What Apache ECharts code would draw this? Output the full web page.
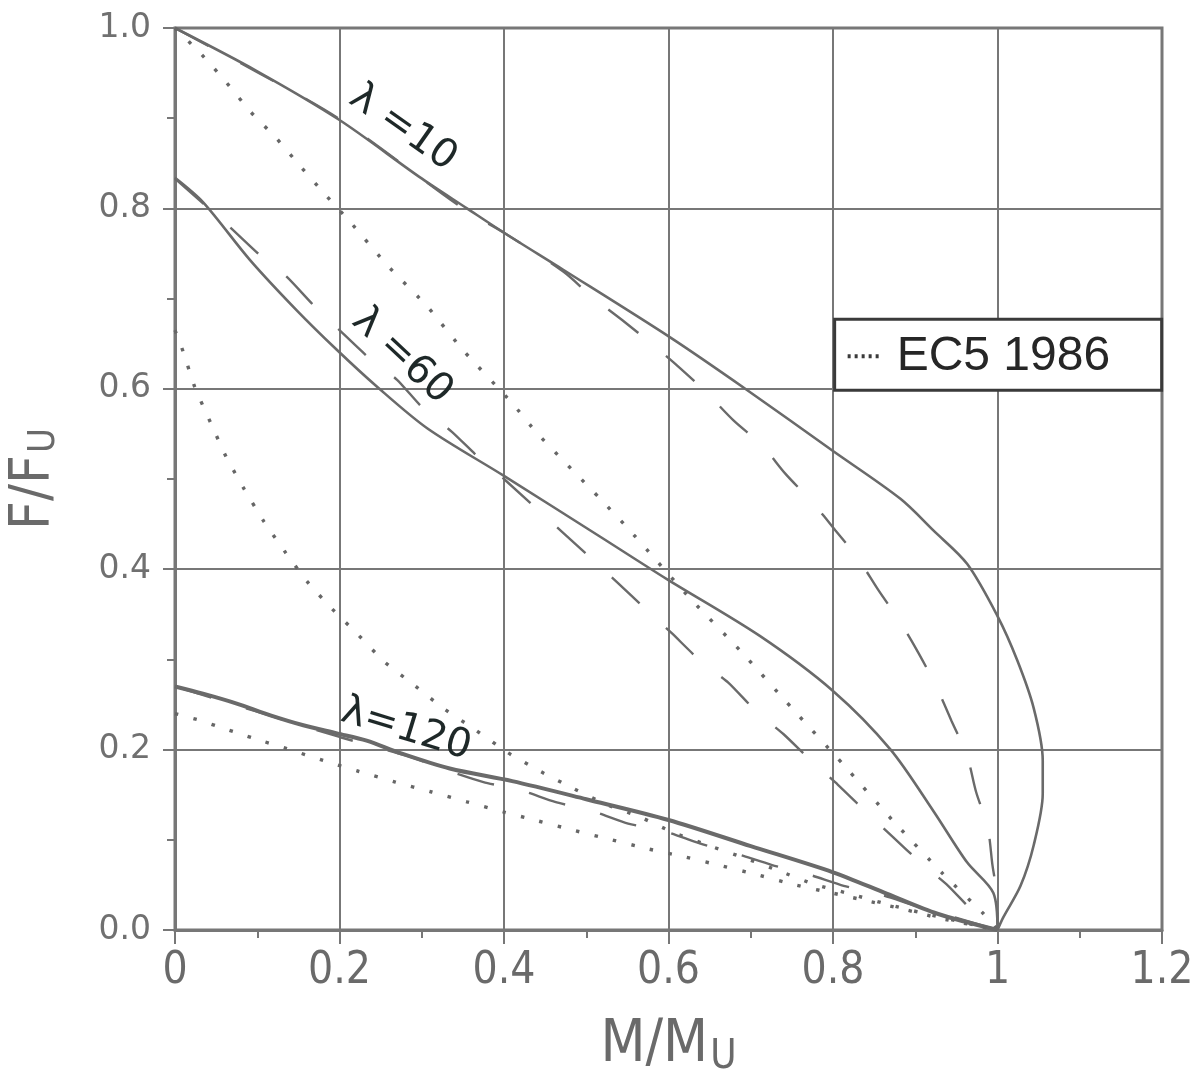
<!DOCTYPE html>
<html>
<head>
<meta charset="utf-8">
<script src="https://cdn.jsdelivr.net/npm/echarts@6/dist/echarts.min.js"></script>
<style>
html,body{margin:0;padding:0;background:#fff;}
#chart{width:1202px;height:1081px;}
</style>
</head>
<body>
<div id="chart"></div>
<script>
// ---- tick labels ----
const xTickLabels = ['0','0.2','0.4','0.6','0.8','1','1.2'];
const yTickLabels = ['0.0','0.2','0.4','0.6','0.8','1.0'];

// ---- series values [M/Mu, F/Fu] ----
const lam10Solid = [[0,1.0],[0.1,0.952],[0.2,0.898],[0.297,0.835],[0.355,0.8],[0.4,0.773],[0.472,0.732],[0.602,0.657],[0.695,0.599],[0.8,0.531],[0.882,0.478],[0.922,0.443],[0.963,0.406],[1.0,0.348],[1.024,0.299],[1.044,0.246],[1.055,0.188],[1.055,0.151],[1.044,0.094],[1.028,0.049],[1.007,0.014],[1.0,0.0]];
const lam10Dash = [[0,1.0],[0.1,0.951],[0.2,0.899],[0.35,0.8],[0.4,0.773],[0.472,0.73],[0.507,0.702],[0.544,0.676],[0.578,0.651],[0.614,0.623],[0.647,0.595],[0.679,0.565],[0.714,0.537],[0.742,0.506],[0.775,0.474],[0.803,0.443],[0.831,0.411],[0.855,0.377],[0.882,0.341],[0.904,0.307],[0.926,0.269],[0.944,0.232],[0.963,0.193],[0.974,0.153],[0.988,0.114],[0.994,0.071],[0.999,0.041],[1.0,0.0]];
const lam10Dot = [[0,1.0],[0.033,0.970],[0.063,0.939],[0.092,0.907],[0.123,0.878],[0.153,0.846],[0.184,0.814],[0.213,0.785],[0.258,0.737],[0.307,0.691],[0.35,0.643],[0.41,0.584],[0.44,0.551],[0.517,0.478],[0.55,0.446],[0.582,0.413],[0.627,0.367],[0.69,0.307],[0.75,0.246],[0.813,0.183],[0.872,0.122],[0.934,0.062],[0.983,0.018],[1.0,0.0]];

const lam60Solid = [[0,0.834],[0.034,0.807],[0.091,0.743],[0.148,0.687],[0.197,0.643],[0.246,0.602],[0.307,0.556],[0.399,0.504],[0.517,0.436],[0.598,0.389],[0.711,0.326],[0.8,0.265],[0.87,0.2],[0.922,0.132],[0.963,0.075],[0.995,0.041],[1.0,0.0]];
const lam60Dash = [[0,0.833],[0.067,0.779],[0.101,0.75],[0.136,0.724],[0.168,0.693],[0.2,0.665],[0.235,0.635],[0.27,0.61],[0.3,0.58],[0.337,0.552],[0.369,0.524],[0.4,0.5],[0.537,0.386],[0.572,0.356],[0.604,0.329],[0.638,0.299],[0.673,0.274],[0.707,0.242],[0.74,0.217],[0.774,0.187],[0.806,0.161],[0.839,0.132],[0.873,0.103],[0.906,0.075],[0.94,0.049],[0.973,0.018],[1.0,0.0]];
const lam60Dot = [[0,0.665],[0.01,0.641],[0.024,0.602],[0.043,0.563],[0.062,0.525],[0.084,0.489],[0.108,0.453],[0.134,0.419],[0.161,0.386],[0.191,0.356],[0.223,0.327],[0.255,0.297],[0.29,0.272],[0.326,0.246],[0.365,0.222],[0.404,0.197],[0.442,0.177],[0.484,0.157],[0.525,0.139],[0.566,0.125],[0.606,0.108],[0.651,0.093],[0.695,0.079],[0.736,0.065],[0.776,0.051],[0.821,0.04],[0.864,0.029],[0.908,0.019],[0.951,0.01],[1.0,0.0]];

const lam120Solid = [[0,0.27],[0.034,0.262],[0.075,0.251],[0.116,0.238],[0.156,0.227],[0.197,0.218],[0.233,0.21],[0.274,0.196],[0.334,0.179],[0.41,0.165],[0.5,0.145],[0.6,0.122],[0.7,0.093],[0.8,0.064],[0.866,0.04],[0.927,0.018],[1.0,0.0]];
const lam120Dash = [[0,0.27],[0.1,0.242],[0.2,0.214],[0.286,0.192],[0.331,0.177],[0.375,0.164],[0.42,0.155],[0.462,0.142],[0.507,0.132],[0.551,0.118],[0.594,0.11],[0.638,0.096],[0.681,0.085],[0.726,0.072],[0.769,0.062],[0.813,0.049],[0.855,0.04],[0.9,0.027],[1.0,0.0]];
const lam120Dot = [[0,0.24],[0.028,0.233],[0.051,0.226],[0.071,0.22],[0.094,0.213],[0.136,0.201],[0.18,0.188],[0.223,0.176],[0.268,0.164],[0.312,0.153],[0.355,0.142],[0.399,0.131],[0.441,0.121],[0.487,0.11],[0.531,0.1],[0.575,0.09],[0.62,0.081],[0.665,0.071],[0.709,0.061],[0.754,0.05],[0.799,0.041],[0.843,0.032],[0.886,0.023],[0.93,0.013],[1.0,0.0]];

const curveLabels = ['λ =10', 'λ =60', 'λ=120'];
const legendText = 'EC5 1986';

// ---- styles ----
const LINE = '#6a6a6a';
const GRIDC = '#777777';
const solidStyle = {color: LINE, width: 2.6, type: 'solid'};
const dashStyle = {color: LINE, width: 2.4, type: [38, 36], cap: 'butt'};
const dotStyle = {color: '#666666', width: 3.4, type: [3.4, 15.6], cap: 'butt'};

function mk(name, data, ls, smooth) {
  return {
    name: name, type: 'line', data: data, showSymbol: false, symbol: 'none',
    smooth: smooth, lineStyle: ls, silent: true, animation: false, z: 3
  };
}

const chart = echarts.init(document.getElementById('chart'), null, {renderer: 'canvas'});

const FONT_NARROW = 'Liberation Sans Narrow, DejaVu Sans Condensed, sans-serif';
const option = {
  animation: false,
  backgroundColor: '#ffffff',
  grid: {left: 175, right: 40, top: 28, bottom: 151, containLabel: false, outerBoundsMode: 'none',
         show: true, borderColor: GRIDC, borderWidth: 3, backgroundColor: 'transparent'},
  xAxis: {
    type: 'value', min: 0, max: 1.2, interval: 0.2,
    name: '{a|M/M}{s|U}', nameLocation: 'middle', nameGap: 86,
    nameTextStyle: {rich: {
      a: {fontFamily: FONT_NARROW, fontSize: 58, color: '#6a6a6a', lineHeight: 60},
      s: {fontFamily: FONT_NARROW, fontSize: 40, color: '#6a6a6a', lineHeight: 60, padding: [24, 0, 0, 2]}
    }},
    axisLine: {show: true, lineStyle: {color: GRIDC, width: 3}},
    axisTick: {show: true, inside: false, length: 14, lineStyle: {color: GRIDC, width: 2}},
    minorTick: {show: true, splitNumber: 2, length: 8, lineStyle: {color: GRIDC, width: 2}},
    splitLine: {show: true, lineStyle: {color: GRIDC, width: 2}},
    axisLabel: {
      margin: 20, color: '#6a6a6a', fontSize: 44, fontFamily: FONT_NARROW,
      formatter: function (v) { return xTickLabels[Math.round(v / 0.2)]; }
    }
  },
  yAxis: {
    type: 'value', min: 0, max: 1.0, interval: 0.2,
    name: '{a|F/F}{s|U}', nameLocation: 'middle', nameGap: 114, nameRotate: 90,
    nameTextStyle: {rich: {
      a: {fontFamily: FONT_NARROW, fontSize: 56, color: '#6a6a6a', lineHeight: 56},
      s: {fontFamily: FONT_NARROW, fontSize: 38, color: '#6a6a6a', lineHeight: 56, padding: [22, 0, 0, 2]}
    }},
    axisLine: {show: true, lineStyle: {color: GRIDC, width: 3}},
    axisTick: {show: true, inside: false, length: 12, lineStyle: {color: GRIDC, width: 2}},
    minorTick: {show: true, splitNumber: 2, length: 8, lineStyle: {color: GRIDC, width: 2}},
    splitLine: {show: true, lineStyle: {color: GRIDC, width: 2}},
    axisLabel: {
      margin: 24, color: '#707070', fontSize: 33, fontFamily: 'DejaVu Sans, sans-serif',
      formatter: function (v) { return yTickLabels[Math.round(v / 0.2)]; }
    }
  },
  series: [
    mk('λ=10', lam10Solid, solidStyle, 0.3),
    mk('λ=10 dashed', lam10Dash, dashStyle, 0.3),
    mk('EC5 1986 λ=10', lam10Dot, dotStyle, 0.2),
    mk('λ=60', lam60Solid, solidStyle, 0.3),
    mk('λ=60 dashed', lam60Dash, dashStyle, 0.2),
    mk('EC5 1986 λ=60', lam60Dot, dotStyle, 0.2),
    mk('λ=120', lam120Solid, {color: LINE, width: 4, type: 'solid'}, 0.3),
    mk('λ=120 dashed', lam120Dash, dashStyle, 0.2),
    mk('EC5 1986 λ=120', lam120Dot, dotStyle, 0.2)
  ]
};
chart.setOption(option);

// annotations placed in data coordinates
const labelFont = '40px "DejaVu Sans", sans-serif';
const labelAnchors = [
  {text: curveLabels[0], at: [0.277, 0.889], rot: -35},
  {text: curveLabels[1], at: [0.276, 0.636], rot: -43},
  {text: curveLabels[2], at: [0.281, 0.222], rot: -17}
];
const graphics = labelAnchors.map(function (l) {
  const p = chart.convertToPixel({gridIndex: 0}, l.at);
  return {type: 'text', x: p[0], y: p[1], rotation: l.rot * Math.PI / 180, z: 10, silent: true,
    style: {text: l.text, font: labelFont, fill: '#1e2828', align: 'center', verticalAlign: 'middle'}};
});
// legend box
const lb = chart.convertToPixel({gridIndex: 0}, [0.802, 0.677]);
graphics.push({
  type: 'group', x: lb[0], y: lb[1], z: 20, silent: true,
  children: [
    {type: 'rect', shape: {x: 0, y: 0, width: 327, height: 71}, style: {fill: '#ffffff', stroke: '#3a3a3a', lineWidth: 3}},
    {type: 'line', shape: {x1: 13, y1: 37, x2: 47, y2: 37}, style: {stroke: '#3a3a3a', lineWidth: 4, lineDash: [3, 4]}},
    {type: 'text', x: 62, y: 37, style: {text: legendText, font: '48px "Liberation Sans", Arial, sans-serif', fill: '#262626', verticalAlign: 'middle', align: 'left'}}
  ]
});
chart.setOption({graphic: graphics});
</script>
</body>
</html>
